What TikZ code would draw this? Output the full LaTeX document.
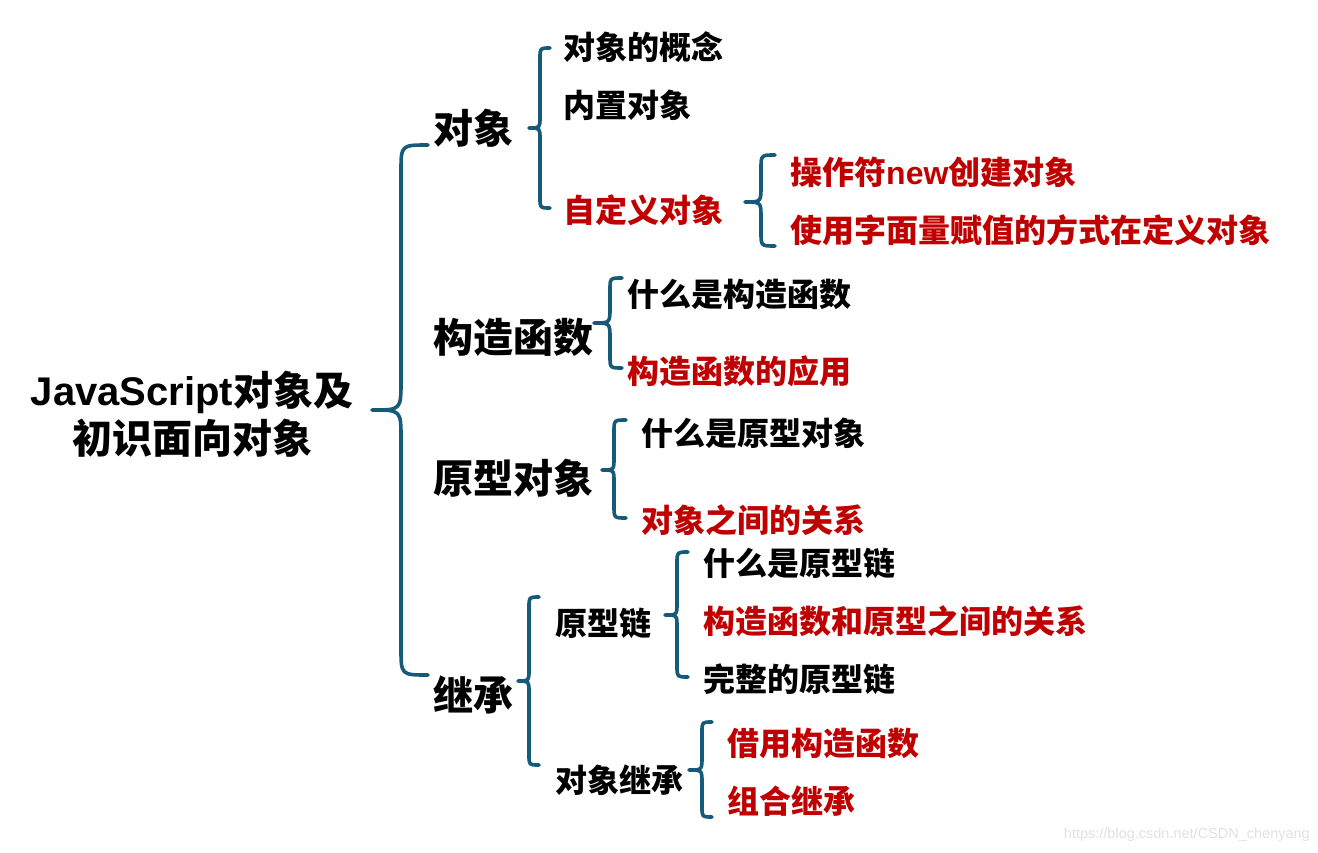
\documentclass[tikz,border=0pt]{standalone}
\usepackage{fontspec}
\setmainfont{Liberation Sans}
\newfontfamily\cjk{Noto Sans CJK SC}
\newfontfamily\latin{Liberation Sans}
\definecolor{bracec}{RGB}{22,90,122}
\definecolor{redc}{RGB}{192,0,0}
\definecolor{wmc}{RGB}{225,225,225}
\tikzset{
  bracestyle/.style={draw=bracec,line width=3.6pt,line cap=round,line join=round},
  txt/.style={anchor=west,inner sep=0pt,font=\cjk\bfseries,text height=0.83em,text depth=0.07em},
  big/.style={txt,yshift=-10pt,font=\cjk\bfseries\fontsize{40}{44}\selectfont},
  item/.style={txt,yshift=-9pt,font=\cjk\bfseries\fontsize{32}{36}\selectfont},
  blk/.style={text=black},
  rd/.style={text=redc}
}
\newcommand{\mybrace}[6]{% xt xv xe ytop ymid ybot
  \draw[bracestyle] (#3,#4) .. controls (#2,#4) .. (#2,{#4+#3-#2})
    -- (#2,{#5-(#2-#1)}) .. controls (#2,#5) .. (#1,#5)
    .. controls (#2,#5) .. (#2,{#5+(#2-#1)})
    -- (#2,{#6-(#3-#2)}) .. controls (#2,#6) .. (#3,#6);
}
\begin{document}
\begin{tikzpicture}[x=1pt,y=-1pt]
\useasboundingbox (0,0) rectangle (1318,852);
% root
\node[big,anchor=center,blk] (root1) at (192,392) {{\latin JavaScript}对象及};
\node[big,anchor=center,blk] (root2) at (192,440) {初识面向对象};
\mybrace{372}{401}{428}{145}{410}{675}
% level 1
\node[big,blk] (obj) at (433,130) {对象};
\node[big,blk] (ctor) at (433,339) {构造函数};
\node[big,blk] (proto) at (433,480) {原型对象};
\node[big,blk] (inh) at (433,697) {继承};
% 对象
\mybrace{529}{540}{550}{48}{128}{208}
\node[item,blk] (o1) at (563,47) {对象的概念};
\node[item,blk] (o2) at (563,105) {内置对象};
\node[item,rd] (o3) at (563,210) {自定义对象};
\mybrace{745}{761}{775}{155}{202}{246}
\node[item,rd] (o31) at (790,172) {操作符{\latin new}创建对象};
\node[item,rd] (o32) at (790,230) {使用字面量赋值的方式在定义对象};
% 构造函数
\mybrace{594}{610}{622}{278}{323}{368}
\node[item,blk] (c1) at (627,294) {什么是构造函数};
\node[item,rd] (c2) at (627,371) {构造函数的应用};
% 原型对象
\mybrace{602}{614}{626}{420}{470}{518}
\node[item,blk] (p1) at (641,433) {什么是原型对象};
\node[item,rd] (p2) at (641,520) {对象之间的关系};
% 继承
\mybrace{518}{529}{539}{597}{681}{765}
\node[item,blk] (i1) at (555,623) {原型链};
\node[item,blk] (i2) at (555,780) {对象继承};
\mybrace{665}{677}{688}{552}{615}{677}
\node[item,blk] (i11) at (703,563) {什么是原型链};
\node[item,rd] (i12) at (703,621) {构造函数和原型之间的关系};
\node[item,blk] (i13) at (703,679) {完整的原型链};
\mybrace{689}{702}{712}{722}{770}{817}
\node[item,rd] (i21) at (727,743) {借用构造函数};
\node[item,rd] (i22) at (727,801) {组合继承};
% watermark
\node[anchor=east,inner sep=0pt,text=wmc,font=\latin\fontsize{14.5}{16}\selectfont] (wm) at (1310,835) {https://blog.csdn.net/CSDN\_chenyang};
\end{tikzpicture}
\end{document}
